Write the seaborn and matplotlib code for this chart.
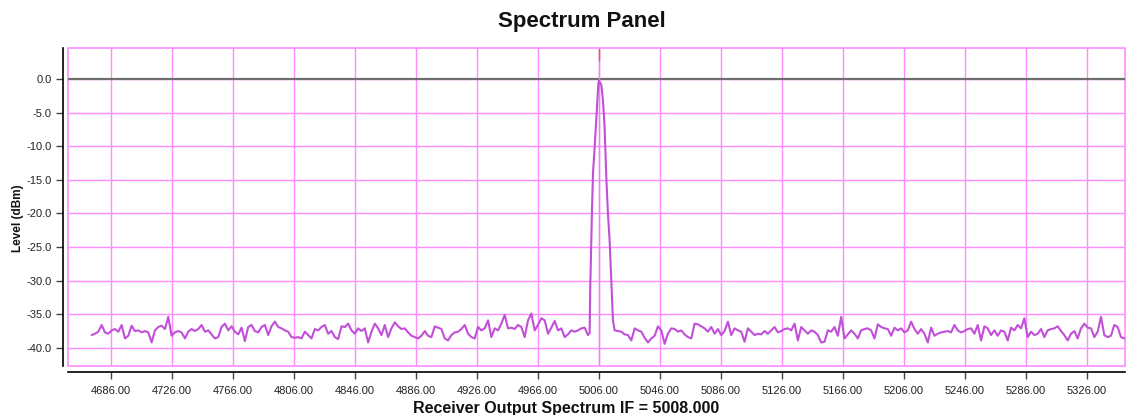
import numpy as np
import pandas as pd
import matplotlib
matplotlib.use("Agg")
import matplotlib.pyplot as plt
import seaborn as sns
from matplotlib.patches import Rectangle

# ---------------- data ----------------
sweep_start_left = 4673.12   # first bin of the sweep
sweep_start_right = 5018.5   # first bin after the carrier
bin_width = 2.1858

left_levels = [
    -38.1, -37.9, -37.6, -36.6, -37.7, -37.9, -37.4, -37.2, -37.6, -36.6,
    -38.6, -38.2, -36.7, -37.5, -37.4, -37.7, -37.5, -37.7, -39.2, -37.4,
    -36.9, -36.7, -37.2, -35.4, -38.2, -37.7, -37.5, -37.7, -38.6, -37.6,
    -37.2, -37.5, -37.2, -36.6, -37.6, -37.4, -38.0,
    -38.6, -38.4, -36.9, -36.4, -37.4, -36.8, -37.6, -38.0, -37.0, -39.0,
    -36.9, -36.6, -37.5, -37.7, -36.9, -36.6, -38.1, -36.8, -36.1, -36.9,
    -37.1, -37.4, -37.6, -38.4, -38.5, -38.4, -38.6, -37.6, -38.1, -38.6,
    -37.2, -37.4, -36.9, -36.6, -37.9, -37.5, -38.4, -38.7, -36.8,
    -36.9, -36.4, -37.4, -37.9, -37.1, -37.5, -37.1, -39.2, -37.6, -36.4,
    -37.1, -38.1, -36.6, -38.4, -37.1, -36.2, -36.8, -37.2, -37.1, -37.7,
    -38.2, -38.4, -38.6, -38.2, -37.5, -38.2, -38.4, -36.8, -37.0, -37.2,
    -38.6, -38.9, -38.1, -37.7, -37.6, -37.2, -36.6, -37.9, -38.4,
    -38.6, -36.9, -37.4, -37.1, -35.9, -38.4, -37.1, -37.4, -36.4, -35.1,
    -37.1, -37.0, -37.2, -36.6, -36.9, -38.4, -35.9, -34.9, -37.4, -36.6,
    -35.6, -35.9, -37.9, -37.0, -36.0, -37.4, -37.1, -38.4, -38.0, -37.4,
    -37.6, -37.4, -37.1, -37.0, -38.1,
]

peak_freqs = [4999.9, 5000.3, 5001.4, 5002.1, 5003.2, 5004.7, 5005.6, 5006.0,
              5007.6, 5008.6, 5009.7, 5010.9, 5011.9, 5013.0, 5014.1, 5015.2,
              5016.3]
peak_levels = [-37.8, -31.0, -19.9, -14.0, -10.1, -4.1, -0.7, -0.25,
               -0.9, -3.1, -7.1, -15.0, -20.0, -24.0, -29.9, -35.9, -37.4]

right_levels = [
    -37.5, -37.6, -38.0, -38.1, -38.9, -37.1, -37.4, -37.6, -38.5, -39.2,
    -38.6, -38.2, -36.8, -37.4, -39.4, -37.9, -37.1, -37.2, -37.6, -37.4,
    -38.0, -38.4, -38.6, -36.4, -36.5, -36.8, -37.1, -37.6, -36.9, -37.9,
    -37.2, -38.1, -37.5, -36.1, -38.1,
    -37.1, -37.4, -37.6, -39.1, -37.1, -37.6, -38.1, -37.9, -38.0, -37.5,
    -37.9, -37.4, -36.9, -37.7, -37.5, -37.2, -37.1, -37.4, -36.4, -38.9,
    -36.9, -37.4, -37.9, -37.4, -37.6, -38.1, -39.2, -39.1, -37.4, -37.6,
    -36.9, -38.2, -35.4, -38.6, -38.0, -37.4, -37.9, -38.6, -37.4,
    -37.2, -37.1, -37.4, -38.6, -36.5, -36.9, -37.1, -37.2, -38.2, -37.0,
    -37.4, -37.1, -37.7, -37.4, -36.1, -37.2, -37.9, -37.2, -37.9, -39.2,
    -37.0, -38.2, -37.9, -37.7, -37.6, -37.5, -37.7, -36.6, -37.4, -37.7,
    -37.5, -37.2, -37.1, -37.9, -36.6, -38.9, -36.8, -37.1, -38.1,
    -37.4, -38.2, -37.4, -37.6, -38.9, -37.0, -37.4, -36.6, -37.1, -35.6,
    -38.4, -37.6, -38.1, -37.9, -37.2, -38.4, -37.4, -37.2, -37.1, -36.8,
    -37.5, -38.1, -38.9, -37.9, -37.5, -38.6, -37.1, -36.4, -37.0, -37.1,
    -38.4, -37.6, -35.4, -38.1, -38.4, -38.2, -36.6, -36.9, -38.4, -38.6,
]

x_ticks = [4686, 4726, 4766, 4806, 4846, 4886, 4926, 4966, 5006, 5046,
           5086, 5126, 5166, 5206, 5246, 5286, 5326]
y_ticks = [0, -5, -10, -15, -20, -25, -30, -35, -40]
marker_freq = 5006.0
if_freq = 5008.000

title_text = "Spectrum Panel"
x_label = f"Receiver Output Spectrum IF = {if_freq:.3f}"
y_label = "Level (dBm)"

# ---------------- build table ----------------
left_freqs = sweep_start_left + bin_width * np.arange(len(left_levels))
right_freqs = sweep_start_right + bin_width * np.arange(len(right_levels))
df = pd.DataFrame({
    "freq": np.concatenate([left_freqs, peak_freqs, right_freqs]),
    "level": np.concatenate([left_levels, peak_levels, right_levels]),
})

# ---------------- style ----------------
sns.set_style("white")
plt.rcParams["font.family"] = ["Liberation Sans", "DejaVu Sans"]

W, H = 1126, 415
fig = plt.figure(figsize=(W / 100, H / 100), dpi=100)
ax = fig.add_axes([68 / W, 1 - 366 / H, (1125 - 68) / W, (366 - 48) / H])

pink = "#FF8CFF"
trace = "#C24FD8"

sns.lineplot(data=df, x="freq", y="level", ax=ax, color=trace,
             linewidth=1.5, estimator=None, sort=False, zorder=3)

ax.set_xlim(4657.6, 5351.2)
ax.set_ylim(-42.7, 4.6)
ax.set_xticks(x_ticks)
ax.set_yticks(y_ticks)
ax.set_xticklabels([f"{v:.2f}" for v in x_ticks])
ax.set_yticklabels([f"{v:.1f}" for v in y_ticks])
ax.grid(True, color=pink, linewidth=1.0)
ax.set_axisbelow(True)

ax.axhline(0, color="#6E6E6E", linewidth=1.6, zorder=2)
ax.axvline(marker_freq, color="#D890E8", linewidth=1.0, zorder=2.5)
ax.plot([marker_freq, marker_freq], [4.46, 2.83], color="#F05A3C",
        linewidth=1.0, zorder=4)

ax.set_xlabel("")
ax.set_ylabel("")

for s in ("top", "right"):
    ax.spines[s].set_visible(False)
ax.spines["left"].set_position(("outward", 3.6))
ax.spines["bottom"].set_position(("outward", 4.3))
for s in ("left", "bottom"):
    ax.spines[s].set_color("black")
    ax.spines[s].set_linewidth(1.2)

ax.add_patch(Rectangle((0, 0), 1, 1, transform=ax.transAxes, fill=False,
                       edgecolor=pink, linewidth=1.2, clip_on=False, zorder=1))

ax.tick_params(axis="both", which="major", bottom=True, left=True,
               length=5, width=1, color="#444444", labelsize=8,
               labelcolor="#222222")
ax.tick_params(axis="x", pad=5)
ax.tick_params(axis="y", pad=3)

fig.text(582 / W, 1 - 22 / H, title_text, ha="center", va="center",
         fontsize=16, fontweight="bold", color="#111111")
fig.text(566 / W, 1 - 408 / H, x_label, ha="center", va="center",
         fontsize=11.5, fontweight="bold", color="#111111")
fig.text(18 / W, 1 - 218 / H, y_label, ha="center", va="center",
         rotation=90, fontsize=8.5, fontweight="bold", color="#111111")

fig.savefig("out.png", dpi=100)
